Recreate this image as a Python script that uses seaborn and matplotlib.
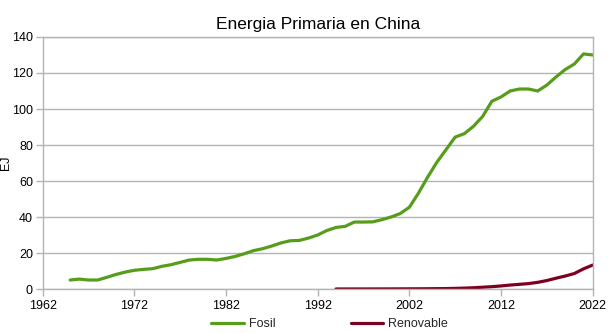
import matplotlib
matplotlib.use("Agg")
import matplotlib.pyplot as plt
import seaborn as sns
import pandas as pd

# Primary energy consumption in China (EJ)
fosil_years = list(range(1965, 2023))
fosil_values = [
    5.0, 5.5, 5.0, 5.0, 6.5, 8.1, 9.4, 10.4, 10.9, 11.3,
    12.6, 13.5, 14.8, 16.1, 16.5, 16.5, 16.1, 17.0, 18.1, 19.6,
    21.3, 22.4, 23.9, 25.6, 26.8, 27.0, 28.3, 30.0, 32.5, 34.2,
    34.8, 37.2, 37.2, 37.3, 38.5, 40.0, 41.9, 45.4, 53.3, 62.2,
    70.4, 77.4, 84.4, 86.3, 90.4, 95.9, 104.3, 106.7, 110.0, 111.1,
    111.1, 110.0, 113.3, 117.8, 121.9, 125.0, 130.6, 130.0,
]
renovable_years = list(range(1994, 2023))
renovable_values = [
    0.02, 0.02, 0.03, 0.03, 0.04, 0.05, 0.06, 0.08, 0.10, 0.12,
    0.15, 0.20, 0.25, 0.35, 0.50, 0.70, 1.0, 1.3, 1.7, 2.2,
    2.6, 3.0, 3.7, 4.7, 6.0, 7.2, 8.6, 11.2, 13.3,
]
series_names = ["Fosil", "Renovable"]
series_colors = ["#579d1c", "#7e0021"]
x_ticks = list(range(1962, 2023, 10))
y_ticks = list(range(0, 141, 20))

df = pd.concat([
    pd.DataFrame({"Año": fosil_years, "EJ": fosil_values, "Serie": series_names[0]}),
    pd.DataFrame({"Año": renovable_years, "EJ": renovable_values, "Serie": series_names[1]}),
])

sns.set_theme(style="white")
plt.rcParams["font.family"] = ["Liberation Sans", "DejaVu Sans"]

fig = plt.figure(figsize=(6.15, 3.33), dpi=100)
ax = fig.add_axes([0.0694, 0.1321, 0.8943, 0.7568])

sns.lineplot(data=df, x="Año", y="EJ", hue="Serie", hue_order=series_names,
             palette=series_colors, linewidth=2.3, ax=ax, legend=False)

grid_c = "#b3b3b3"
ax.set_xlim(x_ticks[0], x_ticks[-1])
ax.set_ylim(y_ticks[0], y_ticks[-1])
ax.set_xticks(x_ticks)
ax.set_yticks(y_ticks)
ax.yaxis.grid(True, color=grid_c, linewidth=1)
ax.xaxis.grid(False)
ax.set_axisbelow(True)
for s in ax.spines.values():
    s.set_color(grid_c)
    s.set_linewidth(1)
ax.tick_params(axis="both", which="major", length=5, width=1, color=grid_c,
               labelsize=9, labelcolor="#000000", direction="out", pad=2)
ax.tick_params(axis="x", bottom=True, pad=3)
ax.tick_params(axis="y", left=True)
ax.set_xlabel("")
ax.set_ylabel("EJ", fontsize=9, color="#000000")
ax.yaxis.set_label_coords(-0.056, 0.5)
ax.set_title("Energia Primaria en China", fontsize=12.5, color="#000000", pad=6)

handles = [plt.Line2D([], [], color=c, linewidth=2.3) for c in series_colors]
fig.legend(handles, series_names, loc="lower center", bbox_to_anchor=(0.536, -0.025),
           ncol=2, frameon=False, fontsize=9, handlelength=2.6, columnspacing=6,
           handletextpad=0.4)

fig.savefig("out.png", dpi=100)
